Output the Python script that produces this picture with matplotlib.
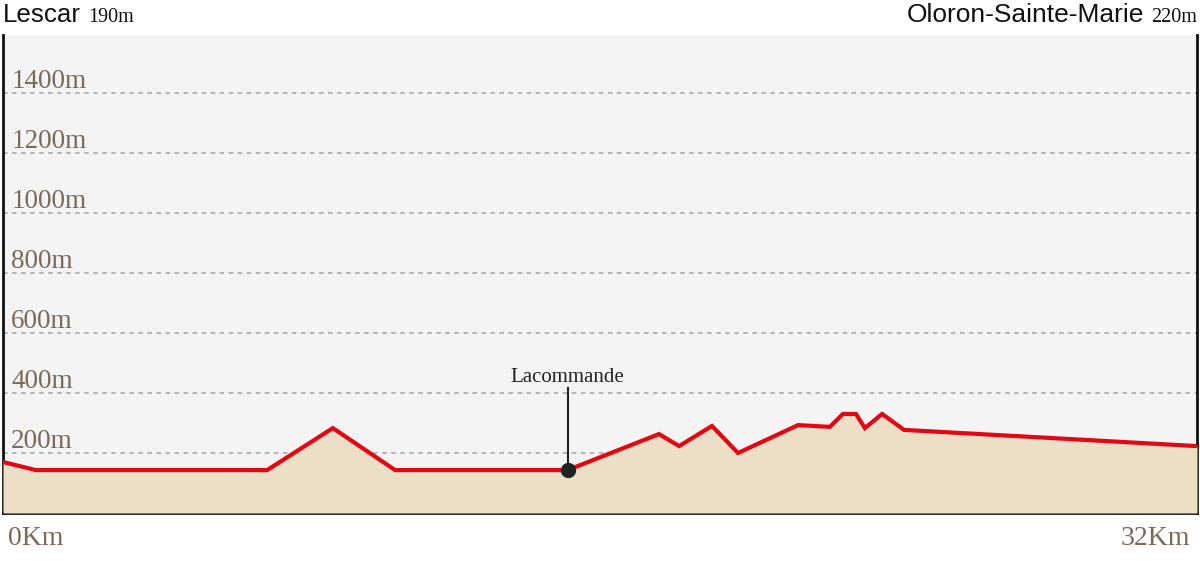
import matplotlib
matplotlib.use("Agg")
import matplotlib.pyplot as plt

# Data
km = [0, 0.88, 7.08, 8.84, 10.51, 15.13, 17.58, 18.12, 19.0, 19.7, 21.31, 22.16, 22.51, 22.86, 23.1, 23.56, 24.15, 32]
elev = [170, 143, 143, 283, 143, 143, 263, 223, 290, 200, 293, 287, 330, 330, 283, 330, 277, 223]
grid_levels = [200, 400, 600, 800, 1000, 1200, 1400]
grid_labels = ["200m", "400m", "600m", "800m", "1000m", "1200m", "1400m"]
start_name, start_alt = "Lescar", "190m"
end_name, end_alt = "Oloron-Sainte-Marie", "220m"
stop_name, stop_km, stop_elev = "Lacommande", 15.13, 143
x_labels = ["0Km", "32Km"]
total_km = 32

serif = "Liberation Serif"
sans = "Liberation Sans"

fig = plt.figure(figsize=(12, 5.61), dpi=100)
ax = fig.add_axes([3/1200, 48/561, 1194/1200, 478/561])
ax.set_facecolor("#f4f4f4")
ax.set_xlim(0, total_km)
ax.set_ylim(0, 1593)

for lv, lb in zip(grid_levels, grid_labels):
    ax.axhline(lv, color="#b0b0b0", lw=1.3, ls=(0, (2.5, 2.5)), zorder=1)
    ax.text(0.22, lv + 17, lb, fontsize=19.5, family=serif, color="#7a6a5a",
            ha="left", va="baseline", zorder=2)

ax.fill_between(km, elev, 0, color="#ecdfc6", zorder=3, lw=0)
ax.plot(km, elev, color="#e30613", lw=3, zorder=4, solid_joinstyle="miter")

# Lacommande marker
ax.plot([stop_km, stop_km], [stop_elev, 415], color="#222222", lw=1.5, zorder=5)
ax.plot(stop_km, stop_elev, "o", color="#222222", ms=10, zorder=6)
ax.text(stop_km, 438, stop_name, fontsize=15, family=serif, color="#222222",
        ha="center", va="baseline", zorder=6)

for s in ["top"]:
    ax.spines[s].set_visible(False)
for s in ["left", "bottom", "right"]:
    ax.spines[s].set_color("#111111")
    ax.spines[s].set_linewidth(2)
ax.set_xticks([])
ax.set_yticks([])

# x labels
fig.text(8/1200, 1 - 545/561, x_labels[0], fontsize=20, family=serif, color="#7a6a5a",
         ha="left", va="baseline")
fig.text(1190/1200, 1 - 545/561, x_labels[1], fontsize=20, family=serif, color="#7a6a5a",
         ha="right", va="baseline")

# header
t1 = fig.text(3/1200, 1 - 22/561, start_name, fontsize=18.7, family=sans, color="#111111",
              ha="left", va="baseline")
ax.annotate(start_alt, xy=(1, 0), xycoords=t1, xytext=(5, 0), textcoords="offset points",
            fontsize=14.5, family=serif, color="#111111", ha="left", va="bottom",
            annotation_clip=False)
t2 = fig.text(1197/1200, 1 - 22/561, end_alt, fontsize=14.5, family=serif, color="#111111",
              ha="right", va="baseline")
ax.annotate(end_name, xy=(0, 0), xycoords=t2, xytext=(-5, 0), textcoords="offset points",
            fontsize=19, family=sans, color="#111111", ha="right", va="bottom",
            annotation_clip=False)

fig.savefig("out.png", dpi=100, facecolor="white")
